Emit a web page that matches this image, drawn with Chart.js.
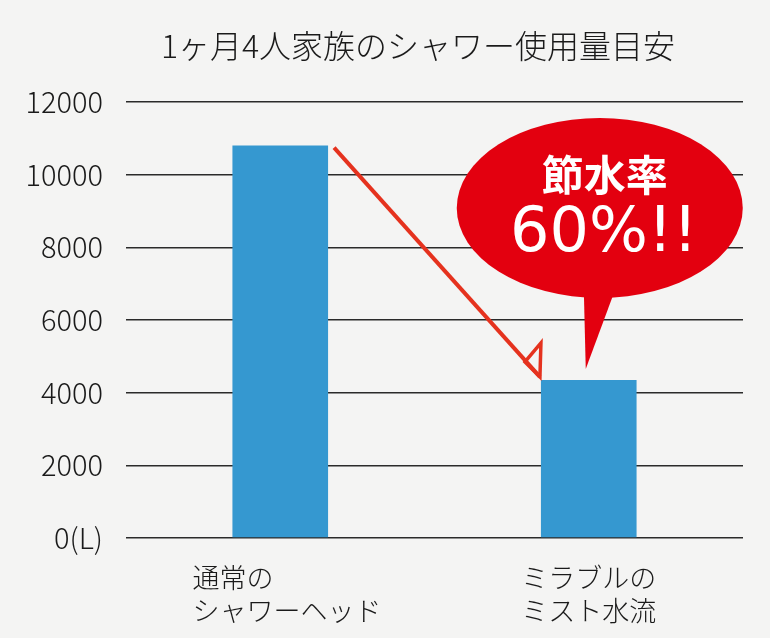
<!DOCTYPE html>
<html>
<head>
<meta charset="utf-8">
<script src="https://cdn.jsdelivr.net/npm/chart.js@4/dist/chart.umd.min.js"></script>
<style>
  html, body { margin: 0; padding: 0; background: #f4f4f3; }
  #wrap { width: 770px; height: 638px; }
</style>
</head>
<body>
<div id="wrap"><canvas id="grafico" width="770" height="638"></canvas></div>
<script>
// データ
const titulo = '1ヶ月4人家族のシャワー使用量目安';
const categorias = [['\u2002通常の　　　　', '\u2002シャワーヘッド'], ['ミラブルの', 'ミスト水流']];
const usoAgua = [10800, 4350];
const yTicks = [0, 2000, 4000, 6000, 8000, 10000, 12000];
const balaoLinha1 = '節水率';
const balaoLinha2 = '60%!!';

const vermelho = '#e3000f';
const azul = '#3598d0';

// título, seta e balão
const extras = {
    id: 'extras',
    afterDatasetsDraw(chart) {
        const ctx = chart.ctx;
        const bars = chart.getDatasetMeta(0).data;
        const b1 = bars[0], b2 = bars[1];

        ctx.save();
        ctx.fillStyle = '#1a1a1a';
        ctx.font = '300 32px "Noto Sans CJK JP"';
        ctx.textAlign = 'center';
        ctx.textBaseline = 'middle';
        ctx.fillText(titulo, 418, 46);

        // seta
        const x0 = b1.x + b1.width / 2 + 6, y0 = b1.y + 2;
        const x1 = b2.x - b2.width / 2 - 1, y1 = b2.y - 3;
        ctx.strokeStyle = '#e5321e';
        ctx.lineWidth = 4;
        ctx.beginPath();
        ctx.moveTo(x0, y0);
        ctx.lineTo(x1, y1);
        ctx.stroke();
        ctx.lineWidth = 3.5;
        ctx.beginPath();
        ctx.moveTo(x1, y1);
        ctx.lineTo(x1 + 1, y1 - 34);
        ctx.lineTo(x1 - 15, y1 - 15);
        ctx.closePath();
        ctx.stroke();

        // balão
        const cx = b2.x + 11, cy = b2.y - 172;
        ctx.fillStyle = vermelho;
        ctx.beginPath();
        ctx.ellipse(cx, cy, 143, 90, 0, 0, Math.PI * 2);
        ctx.fill();
        ctx.beginPath();
        ctx.moveTo(b2.x - 5, cy + 80);
        ctx.lineTo(b2.x + 27, cy + 80);
        ctx.lineTo(b2.x - 3, b2.y - 11);
        ctx.closePath();
        ctx.fill();

        ctx.fillStyle = '#ffffff';
        ctx.font = 'bold 42px "Noto Sans CJK JP"';
        ctx.fillText(balaoLinha1, cx + 5, cy - 33);
        ctx.font = '62px "DejaVu Sans"';
        ctx.fillText(balaoLinha2, cx + 4, cy + 27);
        ctx.restore();
    }
};

new Chart(document.getElementById('grafico'), {
    type: 'bar',
    data: {
        labels: categorias,
        datasets: [{
            data: usoAgua,
            backgroundColor: azul,
            barPercentage: 0.31,
            categoryPercentage: 1
        }]
    },
    options: {
        responsive: false,
        animation: false,
        layout: { padding: { top: 102, right: 27, left: 0, bottom: 0 } },
        plugins: {
            legend: { display: false },
            tooltip: { enabled: false }
        },
        scales: {
            x: {
                grid: { display: false },
                border: { display: false },
                ticks: {
                    color: '#1a1a1a',
                    font: { family: '"Noto Sans CJK JP"', size: 27, weight: '300', lineHeight: 1.2 },
                    padding: 16,
                    maxRotation: 0
                },
                afterFit(scale) { scale.height = 100; }
            },
            y: {
                min: 0,
                max: 12000,
                afterBuildTicks(scale) { scale.ticks = yTicks.map(v => ({ value: v })); },
                grid: { color: '#2a2a2a', lineWidth: 1.5, drawTicks: false },
                border: { display: false },
                ticks: {
                    color: '#1a1a1a',
                    font: { family: '"Noto Sans CJK JP"', size: 29, weight: '300' },
                    padding: 23,
                    callback: v => v === 0 ? '0(L)' : String(v)
                },
                afterFit(scale) { scale.width = 126; }
            }
        }
    },
    plugins: [extras]
});
</script>
</body>
</html>
